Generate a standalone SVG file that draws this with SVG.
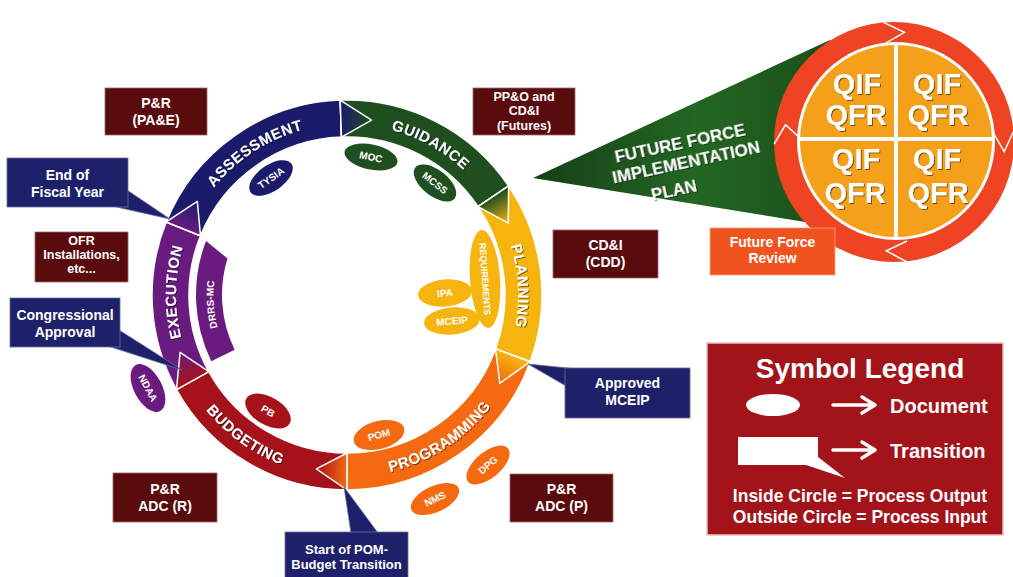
<svg xmlns="http://www.w3.org/2000/svg" width="1013" height="577" viewBox="0 0 1013 577">
  <style>
    text { font-family: "Liberation Sans", Arial, sans-serif; font-weight: bold; fill: #ffffff; }
    .band { font-size: 15px; letter-spacing: 0.5px; }
    .doc { font-size: 10px; text-anchor: middle; }
    .box { font-size: 14px; text-anchor: middle; }
    .sbox { font-size: 12.5px; text-anchor: middle; }
    .seg { stroke: #ffffff; stroke-width: 1.5; stroke-linejoin: round; }
    .input { fill: #5a0b0d; stroke: #9a6a6a; stroke-width: 0.8; }
    .trans { fill: #1d216a; stroke: #6a6e9a; stroke-width: 0.8; }
    .q { font-size: 29px; text-anchor: middle; }
    .ffip { font-size: 17px; text-anchor: middle; }
    .chev { fill: none; stroke: #ffffff; stroke-width: 1.5; stroke-linejoin: miter; }
  </style>
  <defs>
    <filter id="sh" x="-10%" y="-20%" width="130%" height="150%">
      <feDropShadow dx="1" dy="1" stdDeviation="0.6" flood-color="#000000" flood-opacity="0.55"/>
    </filter>
    <linearGradient id="g1" gradientUnits="userSpaceOnUse" x1="183.35" y1="228.88" x2="197.32" y2="201.47">
      <stop offset="0" stop-color="#6a1b80"/><stop offset="1" stop-color="#1b1b6b"/>
    </linearGradient>
    <linearGradient id="g2" gradientUnits="userSpaceOnUse" x1="340.84" y1="118.61" x2="371.56" y2="120.22">
      <stop offset="0" stop-color="#1b1b6b"/><stop offset="1" stop-color="#1f4f1f"/>
    </linearGradient>
    <linearGradient id="g3" gradientUnits="userSpaceOnUse" x1="493.33" y1="196.30" x2="508.24" y2="223.21">
      <stop offset="0" stop-color="#1f4f1f"/><stop offset="1" stop-color="#f6b40e"/>
    </linearGradient>
    <linearGradient id="g4" gradientUnits="userSpaceOnUse" x1="512.86" y1="355.37" x2="499.85" y2="383.25">
      <stop offset="0" stop-color="#f6b40e"/><stop offset="1" stop-color="#f56a10"/>
    </linearGradient>
    <linearGradient id="g5" gradientUnits="userSpaceOnUse" x1="347" y1="471.5" x2="316.35" y2="468.82">
      <stop offset="0" stop-color="#f56a10"/><stop offset="1" stop-color="#a5121a"/>
    </linearGradient>
    <linearGradient id="g6" gradientUnits="userSpaceOnUse" x1="192.63" y1="380.57" x2="180.12" y2="352.46">
      <stop offset="0" stop-color="#a5121a"/><stop offset="1" stop-color="#6a1b80"/>
    </linearGradient>
    <linearGradient id="ffg" x1="0" y1="0" x2="1" y2="0">
      <stop offset="0" stop-color="#173f17"/>
      <stop offset="0.55" stop-color="#236723"/>
      <stop offset="1" stop-color="#1a4f1a"/>
    </linearGradient>
    <!-- baselines for the band labels -->
    <path id="pAssess" d="M176.23,303.95 A171 171 0 0 1 424.63,142.64"/>
    <path id="pGuide" d="M258.93,148.42 A171 171 0 0 1 517.97,292.02"/>
    <path id="pPlan" d="M424.63,142.64 A171 171 0 0 1 440.13,438.41"/>
    <path id="pExec" d="M258.93,441.58 A171 171 0 0 1 264.10,145.44"/>
    <path id="pProg" d="M264.37,457.16 A182 182 0 0 0 528.75,285.47"/>
    <path id="pBudg" d="M166.0,275.98 A182 182 0 0 0 421.03,461.27"/>
    <path id="pDrrs" d="M288.48,414.99 A133.5 133.5 0 0 1 272.35,184.32"/>
  </defs>

  <rect width="1013" height="577" fill="#ffffff"/>

  <!-- Future Force Implementation Plan wedge -->
  <g id="ffip">
    <polygon points="533,178 830,40 830,226" fill="url(#ffg)"/>
    <text class="ffip" filter="url(#sh)" x="680" y="149" transform="rotate(-12 680 143)">FUTURE FORCE</text>
    <text class="ffip" filter="url(#sh)" x="686" y="168" transform="rotate(-12 686 162)">IMPLEMENTATION</text>
    <text class="ffip" filter="url(#sh)" x="674" y="196" transform="rotate(-12 674 190)">PLAN</text>
  </g>

  <!-- quarterly review wheel -->
  <g id="wheel">
    <circle cx="894" cy="142" r="120" fill="#ee4424"/>
    <polyline class="chev" points="774.1,144.1 785.5,124.8 806.0,143.5"/>
    <polyline class="chev" points="907.0,262.0 886.3,250.8 907.0,241.0"/>
    <polyline class="chev" points="1013.5,131.5 1004.2,151.6 993.6,133.3"/>
    <polyline class="chev" points="883.5,22.4 904.4,32.4 885.3,43.4"/>
    <circle cx="896" cy="141" r="99" fill="#ffffff"/>
    <circle cx="896" cy="141" r="96" fill="#f5a01a"/>
    <line x1="896" y1="44" x2="896" y2="238" stroke="#ffffff" stroke-width="4"/>
    <line x1="799" y1="139" x2="993" y2="139" stroke="#ffffff" stroke-width="4"/>
    <g filter="url(#sh)">
      <text class="q" x="857" y="94">QIF</text>
      <text class="q" x="856" y="125">QFR</text>
      <text class="q" x="937" y="94">QIF</text>
      <text class="q" x="938" y="125">QFR</text>
      <text class="q" x="856" y="169">QIF</text>
      <text class="q" x="855" y="203">QFR</text>
      <text class="q" x="937" y="169">QIF</text>
      <text class="q" x="938" y="203">QFR</text>
    </g>
  </g>

  <g id="future-force-review">
    <rect x="710" y="228" width="125" height="47" fill="#f0541e" stroke="#f7a080" stroke-width="0.8"/>
    <text class="box" x="772.5" y="247">Future Force</text>
    <text class="box" x="772.5" y="263">Review</text>
  </g>

  <!-- process ring -->
  <g id="execution">
    <path class="seg" fill="#6a1b80" d="M176.45,389.54 A195 195 0 0 1 166.20,221.95 L200.51,235.81 A158 158 0 0 0 208.81,371.60 Z"/>
    <text class="band" filter="url(#sh)"><textPath href="#pExec" startOffset="50%" text-anchor="middle">EXECUTION</textPath></text>
  </g>
  <g id="assessment">
    <path class="seg" fill="#1b1b6b" d="M166.20,221.95 A195 195 0 0 1 340.19,100.12 L341.49,137.10 A158 158 0 0 0 200.51,235.81 Z"/>
    <text class="band" filter="url(#sh)"><textPath href="#pAssess" startOffset="50%" text-anchor="middle">ASSESSMENT</textPath></text>
  </g>
  <g id="guidance">
    <path class="seg" fill="#1f4f1f" d="M340.19,100.12 A195 195 0 0 1 508.66,185.96 L477.99,206.65 A158 158 0 0 0 341.49,137.10 Z"/>
    <text class="band" filter="url(#sh)"><textPath href="#pGuide" startOffset="50%" text-anchor="middle">GUIDANCE</textPath></text>
  </g>
  <g id="planning">
    <path class="seg" fill="#f6b40e" d="M508.66,185.96 A195 195 0 0 1 530.24,361.69 L495.47,349.04 A158 158 0 0 0 477.99,206.65 Z"/>
    <text class="band" filter="url(#sh)"><textPath href="#pPlan" startOffset="50%" text-anchor="middle">PLANNING</textPath></text>
  </g>
  <g id="programming">
    <path class="seg" fill="#f56a10" d="M530.24,361.69 A195 195 0 0 1 347,490 L347,453 A158 158 0 0 0 495.47,349.04 Z"/>
    <text class="band" filter="url(#sh)"><textPath href="#pProg" startOffset="50%" text-anchor="middle">PROGRAMMING</textPath></text>
  </g>
  <g id="budgeting">
    <path class="seg" fill="#a5121a" d="M347,490 A195 195 0 0 1 176.45,389.54 L208.81,371.60 A158 158 0 0 0 347,453 Z"/>
    <text class="band" filter="url(#sh)"><textPath href="#pBudg" startOffset="50%" text-anchor="middle">BUDGETING</textPath></text>
  </g>

  <!-- arrow tips where one phase hands over to the next -->
  <g id="connectors">
    <path class="seg" fill="url(#g1)" d="M166.20,221.95 L197.32,201.47 L200.51,235.81 Z"/>
    <path class="seg" fill="url(#g2)" d="M340.19,100.12 L371.56,120.22 L341.49,137.10 Z"/>
    <path class="seg" fill="url(#g3)" d="M508.66,185.96 L508.24,223.21 L477.99,206.65 Z"/>
    <path class="seg" fill="url(#g4)" d="M530.24,361.69 L499.85,383.25 L495.47,349.04 Z"/>
    <path class="seg" fill="url(#g5)" d="M347,490 L316.35,468.82 L347,453 Z"/>
    <path class="seg" fill="url(#g6)" d="M176.45,389.54 L180.12,352.46 L208.81,371.60 Z"/>
  </g>

  <g id="drrs-mc">
    <path fill="#6a1b80" d="M211.28,361.19 A151 151 0 0 1 206.03,240.89 L227.46,258.45 A125 125 0 0 0 234.65,349.80 Z"/>
    <text style="font-size:10px"><textPath href="#pDrrs" startOffset="50%" text-anchor="middle">DRRS-MC</textPath></text>
  </g>

  <!-- documents produced inside the ring -->
  <g id="doc-tysia" transform="rotate(-35 271 178)">
    <ellipse cx="271" cy="178" rx="25" ry="13" fill="#1b1b6b"/>
    <text class="doc" x="271" y="181.5">TYSIA</text>
  </g>
  <g id="doc-moc" transform="rotate(12 371 157)">
    <ellipse cx="371" cy="157" rx="27" ry="12.5" fill="#1f4f1f"/>
    <text class="doc" x="371" y="160.5">MOC</text>
  </g>
  <g id="doc-mcss" transform="rotate(38 435 183)">
    <ellipse cx="435" cy="183" rx="25" ry="13" fill="#1f4f1f"/>
    <text class="doc" x="435" y="186.5">MCSS</text>
  </g>
  <g id="doc-requirements" transform="rotate(-4 485 279)">
    <ellipse cx="485" cy="279" rx="15" ry="49" fill="#f6b40e"/>
    <text class="doc" style="font-size:9px" x="485" y="282" transform="rotate(90 485 279)">REQUIREMENTS</text>
  </g>
  <g id="doc-ipa" transform="rotate(-5 445 293)">
    <ellipse cx="445" cy="293" rx="27" ry="13.5" fill="#f6b40e"/>
    <text class="doc" x="445" y="296.5">IPA</text>
  </g>
  <g id="doc-mceip" transform="rotate(-5 452 321)">
    <ellipse cx="452" cy="321" rx="28" ry="13.5" fill="#f6b40e"/>
    <text class="doc" x="452" y="324.5">MCEIP</text>
  </g>
  <g id="doc-pom" transform="rotate(-15 379 435)">
    <ellipse cx="379" cy="435" rx="26" ry="14" fill="#f56a10"/>
    <text class="doc" x="379" y="438.5">POM</text>
  </g>
  <g id="doc-dpg" transform="rotate(-40 488 465)">
    <ellipse cx="488" cy="465" rx="26" ry="13" fill="#f56a10"/>
    <text class="doc" x="488" y="468.5">DPG</text>
  </g>
  <g id="doc-nms" transform="rotate(-25 435 499)">
    <ellipse cx="435" cy="499" rx="26" ry="13" fill="#f56a10"/>
    <text class="doc" x="435" y="502.5">NMS</text>
  </g>
  <g id="doc-pb" transform="rotate(30 268 411)">
    <ellipse cx="268" cy="411" rx="25" ry="14" fill="#a5121a"/>
    <text class="doc" x="268" y="414.5">PB</text>
  </g>
  <g id="doc-ndaa" transform="rotate(62 148 388)">
    <ellipse cx="148" cy="388" rx="26" ry="14" fill="#6a1b80"/>
    <text class="doc" x="148" y="391.5">NDAA</text>
  </g>

  <!-- process inputs outside the ring -->
  <g id="in-pae">
    <rect class="input" x="105" y="88" width="102" height="47"/>
    <text class="box" x="156" y="108">P&amp;R</text>
    <text class="box" x="156" y="125">(PA&amp;E)</text>
  </g>
  <g id="in-ofr">
    <rect class="input" x="35" y="232" width="93" height="50"/>
    <text class="sbox" x="81.5" y="245">OFR</text>
    <text class="sbox" x="81.5" y="259">Installations,</text>
    <text class="sbox" x="81.5" y="273">etc...</text>
  </g>
  <g id="in-ppo">
    <rect class="input" x="473" y="88" width="102" height="47"/>
    <text class="sbox" x="524" y="101">PP&amp;O and</text>
    <text class="sbox" x="524" y="115">CD&amp;I</text>
    <text class="sbox" x="524" y="130">(Futures)</text>
  </g>
  <g id="in-cdd">
    <rect class="input" x="553" y="230" width="105" height="48"/>
    <text class="box" x="605.5" y="250">CD&amp;I</text>
    <text class="box" x="605.5" y="267">(CDD)</text>
  </g>
  <g id="in-adc-r">
    <rect class="input" x="113" y="473" width="104" height="49"/>
    <text class="box" x="165" y="494">P&amp;R</text>
    <text class="box" x="165" y="511">ADC (R)</text>
  </g>
  <g id="in-adc-p">
    <rect class="input" x="510" y="474" width="103" height="48"/>
    <text class="box" x="561.5" y="494">P&amp;R</text>
    <text class="box" x="561.5" y="511">ADC (P)</text>
  </g>

  <!-- transitions -->
  <g id="tr-fiscal-year">
    <polygon class="trans" points="112,206 127,190 170,219"/>
    <rect class="trans" x="7" y="158" width="121" height="49"/>
    <text class="box" x="67.5" y="180">End of</text>
    <text class="box" x="67.5" y="197">Fiscal Year</text>
  </g>
  <g id="tr-congress">
    <polygon class="trans" points="108,346 119,330 182,370"/>
    <rect class="trans" x="10" y="298" width="110" height="49"/>
    <text class="box" x="65" y="320">Congressional</text>
    <text class="box" x="65" y="337">Approval</text>
  </g>
  <g id="tr-mceip">
    <polygon class="trans" points="578,369 566,386 528,364"/>
    <rect class="trans" x="565" y="368" width="125" height="50"/>
    <text class="box" x="627.5" y="388">Approved</text>
    <text class="box" x="627.5" y="405">MCEIP</text>
  </g>
  <g id="tr-pom-budget">
    <polygon class="trans" points="351,533 378,533 344,487"/>
    <rect class="trans" x="285" y="532" width="123" height="50"/>
    <text class="box" style="font-size:13px" x="346.5" y="554">Start of POM-</text>
    <text class="box" style="font-size:13px" x="346.5" y="569">Budget Transition</text>
  </g>

  <!-- symbol legend -->
  <g id="legend">
    <rect x="707" y="343" width="296" height="192" fill="#a3141a" stroke="#e0c4c4" stroke-width="1.5"/>
    <text x="860" y="378" style="font-size:28px" text-anchor="middle">Symbol Legend</text>
    <ellipse cx="773" cy="405" rx="27" ry="11" fill="#ffffff"/>
    <path d="M833,405 H873 M862,397 L875,405 L862,413" fill="none" stroke="#ffffff" stroke-width="3.5" stroke-linecap="round" stroke-linejoin="round"/>
    <text x="890" y="413" style="font-size:20px">Document</text>
    <path d="M738,437 H818 V457 L845,478 L806,465 H738 Z" fill="#ffffff"/>
    <path d="M833,450 H873 M862,442 L875,450 L862,458" fill="none" stroke="#ffffff" stroke-width="3.5" stroke-linecap="round" stroke-linejoin="round"/>
    <text x="890" y="458" style="font-size:20px">Transition</text>
    <text x="860" y="502" style="font-size:17.5px" text-anchor="middle">Inside Circle = Process Output</text>
    <text x="860" y="523" style="font-size:17.5px" text-anchor="middle">Outside Circle = Process Input</text>
  </g>
</svg>
